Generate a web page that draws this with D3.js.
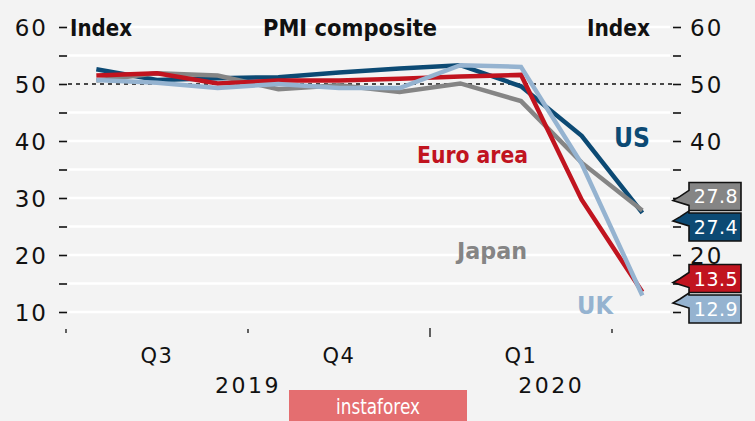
<!DOCTYPE html>
<html><head><meta charset="utf-8">
<script src="https://cdn.jsdelivr.net/npm/d3@7"></script>
<style>
html,body{margin:0;padding:0;background:#f3f3f3;}
svg{display:block;}
text{font-family:"DejaVu Sans",sans-serif;}
</style></head>
<body>
<svg id="c" width="755" height="421"></svg>
<script>
// ---- data ----
const months = ["Jul","Aug","Sep","Oct","Nov","Dec","Jan","Feb","Mar","Apr"];
const us    = [52.6,50.7,51.0,51.2,52.0,52.7,53.3,49.6,40.9,27.4];
const euro  = [51.5,51.9,50.1,50.6,50.6,50.9,51.3,51.6,29.7,13.5];
const japan = [50.6,51.9,51.5,49.1,49.8,48.6,50.1,47.0,36.2,27.8];
const uk    = [50.7,50.2,49.3,50.0,49.3,49.3,53.3,53.0,36.0,12.9];
const seriesNames = ["US","Japan","Euro area","UK"];
const quarterLabels = ["Q3","Q4","Q1"];
const yearLabels = ["2019","2020"];
const yTicksLeft = [10,20,30,40,50,60];
const yTicksRight = [20,40,50,60];

const colors = {"US":"#0c4a74","Japan":"#858585","Euro area":"#c1141f","UK":"#95b3d0"};
const values = {"US":us,"Japan":japan,"Euro area":euro,"UK":uk};

const svg = d3.select("#c");
svg.append("rect").attr("width",755).attr("height",421).attr("fill","#f3f3f3");

const x = d3.scaleLinear().domain([0,9]).range([66,612]);   // months since 1 Jul 2019
const y = d3.scaleLinear().domain([10,60]).range([312,27]);

// grid
const gridVals = d3.range(10,61,5).filter(v=>v!==50);
svg.append("g").selectAll("line").data(gridVals).join("line")
  .attr("x1",68).attr("x2",670).attr("y1",d=>y(d)).attr("y2",d=>y(d))
  .attr("stroke","#ffffff").attr("stroke-width",2.5);
svg.append("line").attr("x1",68).attr("x2",674).attr("y1",y(50)).attr("y2",y(50))
  .attr("stroke","#111").attr("stroke-width",1.4).attr("stroke-dasharray","4,4");

// y axes (left & right)
const leftAxis = d3.axisLeft(y).tickValues(d3.range(10,61,5)).tickSize(8).tickPadding(11)
  .tickFormat(d=>yTicksLeft.includes(d)?d:"");
const gl = svg.append("g").attr("transform","translate(67,0)").call(leftAxis);
gl.select(".domain").remove();
gl.selectAll(".tick line").attr("stroke","#111").attr("stroke-width",1.6);
gl.selectAll(".tick text").attr("font-size",23).attr("fill","#111").attr("letter-spacing",2)
  .attr("font-family","DejaVu Sans").attr("dy","0.35em");

const rightAxis = d3.axisRight(y).tickValues(d3.range(10,61,5)).tickSize(8).tickPadding(9)
  .tickFormat(d=>yTicksRight.includes(d)?d:"");
const gr = svg.append("g").attr("transform","translate(673,0)").call(rightAxis);
gr.select(".domain").remove();
gr.selectAll(".tick line").attr("stroke","#111").attr("stroke-width",1.6);
gr.selectAll(".tick text").attr("font-size",23).attr("fill","#111").attr("letter-spacing",2)
  .attr("font-family","DejaVu Sans").attr("dy","0.35em");

// x axis ticks
const xt = [0,3,6,9];
svg.append("g").selectAll("line").data(xt).join("line")
  .attr("x1",d=>x(d)).attr("x2",d=>x(d))
  .attr("y1",d=>d===6?328:329).attr("y2",d=>d===6?337:333)
  .attr("stroke","#111").attr("stroke-width",1.3);
svg.append("g").selectAll("text").data(quarterLabels).join("text")
  .attr("x",(d,i)=>x(i*3+1.5)).attr("y",363).attr("text-anchor","middle")
  .attr("font-size",21).attr("fill","#111").attr("letter-spacing",1.5).text(d=>d);
svg.append("g").selectAll("text").data(yearLabels).join("text")
  .attr("x",(d,i)=>i===0?x(3):x(8)).attr("y",393).attr("text-anchor","middle")
  .attr("font-size",22).attr("fill","#111").attr("letter-spacing",2.5).text(d=>d);

// titles
const titleFont = "Roboto, 'DejaVu Sans', sans-serif";
svg.append("text").attr("x",263).attr("y",36).attr("font-size",23).attr("font-weight",700)
  .attr("font-family",titleFont)
  .attr("fill","#111").attr("textLength",174).attr("lengthAdjust","spacingAndGlyphs").text("PMI composite");
svg.append("text").attr("x",70).attr("y",36).attr("font-size",23).attr("font-weight",700)
  .attr("font-family",titleFont)
  .attr("fill","#111").attr("textLength",62).attr("lengthAdjust","spacingAndGlyphs").text("Index");
svg.append("text").attr("x",587).attr("y",36).attr("font-size",23).attr("font-weight",700)
  .attr("font-family",titleFont)
  .attr("fill","#111").attr("textLength",63).attr("lengthAdjust","spacingAndGlyphs").text("Index");

// lines
const line = d3.line().x((d,i)=>x(i+0.5)).y(d=>y(d));
svg.append("g").selectAll("path").data(seriesNames).join("path")
  .attr("d",n=>line(values[n])).attr("fill","none")
  .attr("stroke",n=>colors[n]).attr("stroke-width",4.5).attr("stroke-linejoin","miter");

// series labels
const seriesLabels = [
  {n:"US",x:614,y:147,fs:26,w:36},
  {n:"Euro area",x:417,y:163,fs:23,w:111},
  {n:"Japan",x:457,y:259,fs:23,w:70},
  {n:"UK",x:577,y:314,fs:25,w:36}
];
svg.append("g").selectAll("text").data(seriesLabels).join("text")
  .attr("x",d=>d.x).attr("y",d=>d.y).attr("font-size",d=>d.fs).attr("font-weight",700)
  .attr("font-family",titleFont)
  .attr("fill",d=>colors[d.n]).attr("textLength",d=>d.w).attr("lengthAdjust","spacingAndGlyphs")
  .text(d=>d.n);

// end-value callouts with simple collision avoidance
const last = seriesNames.map(n=>({n, v:values[n][values[n].length-1]}))
  .sort((a,b)=>b.v-a.v);
last.forEach(d=>{d.cy=y(d.v);});
const gap=30.5;
for(let it=0;it<50;it++){
  for(let i=1;i<last.length;i++){
    const a=last[i-1], b=last[i];
    const ov = gap-(b.cy-a.cy);
    if(ov>0){a.cy-=ov/2; b.cy+=ov/2;}
  }
}
const bx=689, bw=52, bh=28, tipX=673;
const cg = svg.append("g");
last.forEach(d=>{
  const top=d.cy-bh/2, bot=d.cy+bh/2;
  const ty=Math.max(top+8,Math.min(bot-10,y(d.v)));
  const p=`M${bx},${top} L${bx+bw},${top} L${bx+bw},${bot} L${bx},${bot} L${bx},${ty+5} L${tipX},${ty} L${bx-9},${ty-4} L${bx},${ty-10} Z`;
  cg.append("path").attr("d",p).attr("fill",colors[d.n]).attr("stroke","#111").attr("stroke-width",1.6)
    .attr("stroke-linejoin","miter");
  cg.append("text").attr("x",bx+bw/2+1).attr("y",d.cy+7).attr("text-anchor","middle")
    .attr("font-size",19).attr("fill","#fff").attr("letter-spacing",0.5).text(d.v.toFixed(1));
});

// watermark
svg.append("rect").attr("x",289).attr("y",390).attr("width",178).attr("height",31).attr("fill","#e46e70");
svg.append("text").attr("x",378).attr("y",414).attr("text-anchor","middle").attr("font-size",22)
  .attr("font-family","Liberation Sans Narrow, Liberation Sans").attr("fill","#fff")
  .attr("textLength",84).attr("lengthAdjust","spacingAndGlyphs").text("instaforex");
</script>
</body></html>
